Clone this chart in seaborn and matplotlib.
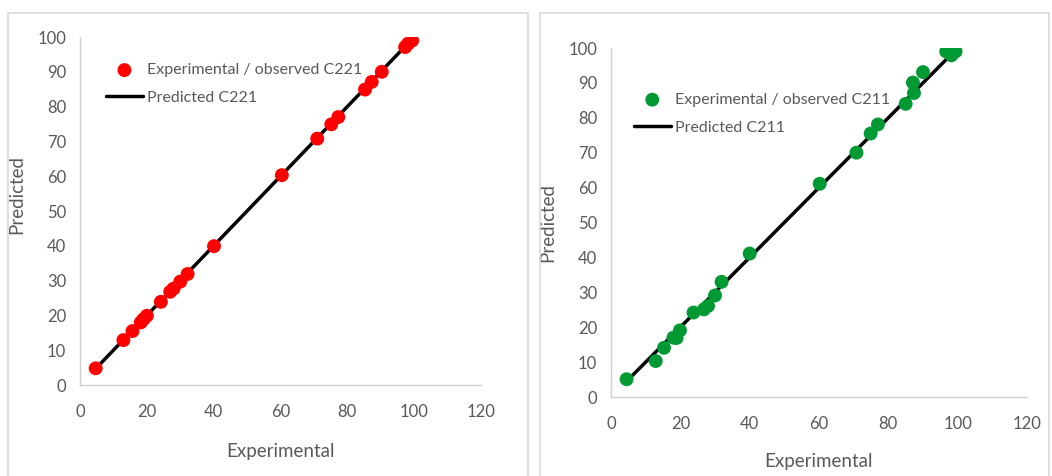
import matplotlib
matplotlib.use("Agg")
import matplotlib.pyplot as plt
import seaborn as sns
import pandas as pd
from matplotlib.patches import Rectangle

# ---- data ----
c221_exp = [4.7, 13.0, 15.7, 18.2, 19.0, 20.0, 24.2, 27.0, 28.0, 30.0, 32.2, 40.1,
            60.4, 71.0, 75.2, 77.3, 85.3, 87.3, 90.3, 97.3, 98.2, 99.4]
c221_obs = [4.8, 12.9, 15.5, 18.0, 18.9, 19.9, 23.9, 26.8, 27.7, 29.7, 31.9, 39.9,
            60.3, 70.8, 74.9, 77.0, 84.9, 87.1, 90.0, 97.1, 98.1, 99.0]
c221_line_x = [4.7, 97.3]
c221_line_y = [4.7, 97.3]

c211_exp = [4.5, 12.9, 15.3, 18.0, 18.9, 19.9, 23.8, 26.8, 28.0, 30.0, 31.9, 40.0,
            60.2, 70.8, 74.9, 77.0, 85.0, 87.1, 87.4, 90.0, 96.7, 98.2, 98.2, 99.4]
c211_obs = [5.1, 10.3, 14.1, 17.0, 16.9, 19.1, 24.2, 25.1, 26.1, 29.1, 33.0, 41.1,
            61.1, 70.0, 75.5, 78.1, 84.0, 90.1, 87.1, 93.1, 99.0, 99.3, 97.9, 99.0]
c211_line_x = [5.0, 97.0]
c211_line_y = [5.0, 97.0]

x_ticks = [0, 20, 40, 60, 80, 100, 120]
y_ticks = [0, 10, 20, 30, 40, 50, 60, 70, 80, 90, 100]

sns.set_style("white")
plt.rcParams["font.family"] = ["Lato", "DejaVu Sans"]
GRAY = "#595959"
SPINE = "#d0d0d0"

fig = plt.figure(figsize=(10.52, 4.76), dpi=100)

# panel frames
fig.patches.append(Rectangle((8/1052, -0.05), 520/1052, 1.05 - 13/476,
                             transform=fig.transFigure, fill=False,
                             edgecolor="#d9d9d9", linewidth=1.2, zorder=0))
fig.patches.append(Rectangle((540/1052, -0.05), 509/1052, 1.05 - 13/476,
                             transform=fig.transFigure, fill=False,
                             edgecolor="#d9d9d9", linewidth=1.2, zorder=0))

ax1 = fig.add_axes([80/1052, (476-385)/476, 401/1052, 348/476])
ax2 = fig.add_axes([611/1052, (476-397)/476, 416/1052, 349/476])

panels = [
    (ax1, c221_exp, c221_obs, c221_line_x, c221_line_y, "#ff0000", "C221",
     (-0.137, 0.546), (0.501, -0.167), (0.065, 0.925)),
    (ax2, c211_exp, c211_obs, c211_line_x, c211_line_y, "#009933", "C211",
     (-0.132, 0.50), (0.50, -0.16), (0.055, 0.872)),
]

for ax, ex, ob, lx, ly, col, name, ylab, xlab, legpos in panels:
    df = pd.DataFrame({"Experimental": ex, "Predicted": ob})
    dl = pd.DataFrame({"x": lx, "y": ly})
    sns.lineplot(data=dl, x="x", y="y", ax=ax, color="black", linewidth=2.5,
                 label=f"Predicted {name}", zorder=2)
    sns.scatterplot(data=df, x="Experimental", y="Predicted", ax=ax, color=col,
                    s=100, edgecolor="none", linewidth=0,
                    label=f"Experimental / observed {name}", zorder=3)
    ax.set_xlim(0, 120)
    ax.set_ylim(0, 100)
    ax.set_xticks(x_ticks)
    ax.set_yticks(y_ticks)
    ax.tick_params(axis="both", length=0, labelsize=12, colors=GRAY)
    ax.tick_params(axis="x", pad=14)
    ax.tick_params(axis="y", pad=10)
    for s in ["top", "right"]:
        ax.spines[s].set_visible(False)
    for s in ["left", "bottom"]:
        ax.spines[s].set_color(SPINE)
        ax.spines[s].set_linewidth(1.0)
    ax.set_xlabel("Experimental", fontsize=13.5, color=GRAY)
    ax.set_ylabel("Predicted", fontsize=13.5, color=GRAY)
    ax.yaxis.set_label_coords(*ylab)
    ax.xaxis.set_label_coords(*xlab)
    ax.grid(False)
    handles, labels = ax.get_legend_handles_labels()
    order = [1, 0]
    leg = ax.legend([handles[i] for i in order], [labels[i] for i in order],
                    loc="upper left", bbox_to_anchor=legpos, frameon=False,
                    fontsize=11.5, handlelength=2.3, handletextpad=0.25,
                    labelspacing=0.85, borderpad=0, borderaxespad=0,
                    markerscale=1.0)
    for t in leg.get_texts():
        t.set_color(GRAY)

fig.savefig("out.png", dpi=100)
